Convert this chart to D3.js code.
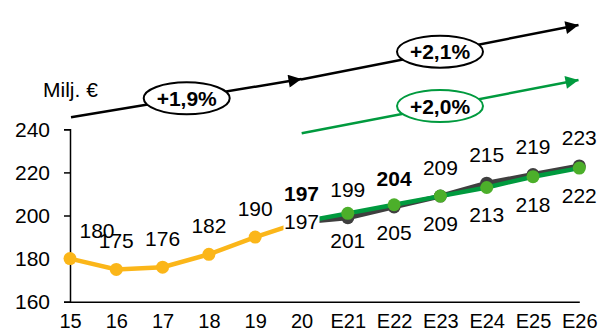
<!DOCTYPE html>
<html><head><meta charset="utf-8">
<script src="https://cdn.jsdelivr.net/npm/d3@7"></script>
<style>body{margin:0;background:#fff}svg{display:block}text{font-family:"Liberation Sans",Arial,sans-serif}</style>
</head><body><svg id="c" width="599" height="332"></svg>
<script>
const categories = ["15","16","17","18","19","20","E21","E22","E23","E24","E25","E26"];
const yTicks = [160,180,200,220,240];
const histValues = [180,175,176,182,190,197,null,null,null,null,null,null];
const darkValues = [null,null,null,null,null,197,199,204,209,215,219,223];
const greenValues = [null,null,null,null,null,197,201,205,209,213,218,222];
const darkBold = ["20","E22"];
const growthLabels = ["+1,9%","+2,1%","+2,0%"];
const unitLabel = "Milj. €";

const svg = d3.select("#c");
const x = d3.scalePoint().domain(categories).range([70,579.3]);
const y = d3.scaleLinear().domain([160,240]).range([301.7,129.3]);

const COL_Y = "#FBB619", COL_D = "#3F3F3F", COL_GL = "#009A3E", COL_GM = "#4CAF2A";

// axes
const yAxis = d3.axisLeft(y).tickValues(yTicks).tickSize(6).tickPadding(14).tickFormat(d3.format("d"));
const gy = svg.append("g").attr("transform","translate(70,0)").call(yAxis);
gy.select(".domain").attr("stroke","#000").attr("stroke-width",1.5);
gy.selectAll(".tick line").attr("stroke","#000").attr("stroke-width",1.5);
gy.selectAll(".tick text").attr("font-size",21).attr("fill","#000");

const xAxis = d3.axisBottom(x).tickSize(0).tickPadding(12);
const gx = svg.append("g").attr("transform","translate(0,301.7)").call(xAxis);
gx.select(".domain").attr("stroke","#000").attr("stroke-width",1.5);
gx.selectAll(".tick text").attr("font-size",20).attr("fill","#000");

function series(vals){ return categories.map((c,i)=>({c,v:vals[i]})).filter(d=>d.v!=null); }
const line = d3.line().x(d=>x(d.c)).y(d=>y(d.v));

const hist = series(histValues), dark = series(darkValues), green = series(greenValues);

svg.append("path").datum(hist).attr("d",line).attr("fill","none").attr("stroke",COL_Y).attr("stroke-width",4.5);
svg.selectAll(".hm").data(hist.slice(0,5)).join("circle").attr("cx",d=>x(d.c)).attr("cy",d=>y(d.v)).attr("r",6.5).attr("fill",COL_Y);

svg.append("path").datum(dark).attr("d",line).attr("fill","none").attr("stroke",COL_D).attr("stroke-width",5);
svg.selectAll(".dm").data(dark.slice(1)).join("circle").attr("cx",d=>x(d.c)).attr("cy",d=>y(d.v)).attr("r",6.5).attr("fill",COL_D);
svg.append("path").datum(green).attr("d",line).attr("fill","none").attr("stroke",COL_GL).attr("stroke-width",4.5);
svg.selectAll(".gm").data(green.slice(1)).join("circle").attr("cx",d=>x(d.c)).attr("cy",d=>y(d.v)).attr("r",6.5).attr("fill",COL_GM);

// labels
const lbl = svg.append("g").attr("font-size",21).attr("fill","#000").attr("text-anchor","middle");
hist.slice(0,5).forEach((d,i)=>{
  lbl.append("text").attr("x",x(d.c)+(i===0?27:0)).attr("y",y(d.v)-21).text(d.v);
});
dark.forEach(d=>{
  lbl.append("text").attr("x",x(d.c)).attr("y",y(d.v)-21)
    .attr("font-weight",darkBold.includes(d.c)?"bold":"normal").text(d.v);
});
green.forEach((d,i)=>{
  if(i===0){
    lbl.append("rect").attr("x",x(d.c)-18).attr("y",y(d.v)-10).attr("width",36).attr("height",20).attr("fill","#fff");
    lbl.append("text").attr("x",x(d.c)).attr("y",y(d.v)+7.5).text(d.v);
  } else {
    lbl.append("text").attr("x",x(d.c)).attr("y",y(d.v)+35).text(d.v);
  }
});

// unit label
svg.append("text").attr("x",43).attr("y",97).attr("font-size",21).text(unitLabel);

// growth arrows
const defs = svg.append("defs");
function marker(id,col){
  defs.append("marker").attr("id",id).attr("viewBox","0 0 10 10").attr("refX",10).attr("refY",5)
    .attr("markerWidth",16).attr("markerHeight",13).attr("markerUnits","userSpaceOnUse").attr("orient","auto")
    .append("path").attr("d","M0,0L10,5L0,10Z").attr("fill",col);
}
marker("ab","#000"); marker("ag",COL_GL);
const arrows = [
  {x1:71,y1:117.3,x2:301.5,y2:79,col:"#000",m:"ab",ex:186.7,ey:98.3,t:growthLabels[0]},
  {x1:301,y1:79.5,x2:578.5,y2:25,col:"#000",m:"ab",ex:440,ey:51.7,t:growthLabels[1]},
  {x1:301.7,y1:133.3,x2:578.5,y2:80,col:COL_GL,m:"ag",ex:440,ey:106,t:growthLabels[2]}
];
arrows.forEach(a=>{
  svg.append("line").attr("x1",a.x1).attr("y1",a.y1).attr("x2",a.x2).attr("y2",a.y2)
    .attr("stroke",a.col).attr("stroke-width",2.5).attr("marker-end",`url(#${a.m})`);
  svg.append("ellipse").attr("cx",a.ex).attr("cy",a.ey).attr("rx",43).attr("ry",16)
    .attr("fill","#fff").attr("stroke",a.col).attr("stroke-width",2);
  svg.append("text").attr("x",a.ex).attr("y",a.ey+7.5).attr("text-anchor","middle")
    .attr("font-size",21).attr("font-weight","bold").attr("fill","#000").text(a.t);
});
</script></body></html>
